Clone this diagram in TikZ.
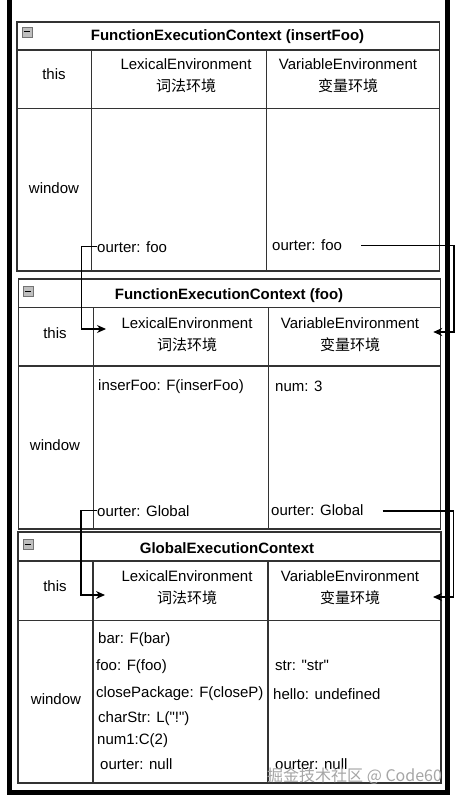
\documentclass[tikz,border=0pt]{standalone}
\usepackage{fontspec}
\setmainfont{Liberation Sans}[Ligatures=TeXOff]
\newfontfamily\cjk{Noto Sans CJK SC}
\usetikzlibrary{arrows.meta}
\begin{document}
\begin{tikzpicture}[x=1pt,y=-1pt,
  grid/.style={draw=black!80, line width=1.2pt},
  txt/.style={inner sep=0pt, anchor=base west, font=\fontsize{15}{18}\selectfont},
  ctr/.style={inner sep=0pt, anchor=base, font=\fontsize{15}{18}\selectfont},
  ttl/.style={inner sep=0pt, anchor=base, font=\fontsize{15}{18}\selectfont\bfseries},
  zh/.style={inner sep=0pt, anchor=base, font=\fontsize{15}{18}\selectfont\cjk},
  frame/.style={line width=5pt, draw=black},
  link/.style={draw=black, line width=1.2pt, -{Stealth[length=9pt,width=8pt]}},
  icon/.style={draw=black!55, fill=black!25, line width=0.8pt, minimum size=10pt, inner sep=0pt},
  minus/.style={draw=black, line width=1pt},
]
\useasboundingbox (0,0) rectangle (459,800);
\fill[white] (0,0) rectangle (459,800);
\draw[frame] (9.5,0) -- (9.5,792.5) -- (447.5,792.5) -- (447.5,0);

% ---------- table 1 ----------
\draw[grid] (17,22) rectangle (439.5,271);
\draw[grid] (17,50) -- (439.5,50);
\draw[grid] (17,108.3) -- (439.5,108.3);
\draw[grid] (91.7,50) -- (91.7,271);
\draw[grid] (266.7,50) -- (266.7,271);
\node[icon] (i1) at (27,32) {};
\draw[minus] ([xshift=2pt]i1.west) -- ([xshift=-2pt]i1.east);
\node[ttl] (t1h) at (227.5,41) {FunctionExecutionContext (insertFoo)};
\node[ctr] (t1this) at (54,80) {this};
\node[ctr] (t1le) at (186,70) {LexicalEnvironment};
\node[zh] (t1lez) at (186,92) {词法环境};
\node[ctr] (t1ve) at (348,70) {VariableEnvironment};
\node[zh] (t1vez) at (348,92) {变量环境};
\node[ctr] (t1win) at (54,193) {window};
\node[txt] (t1lo) at (97,252) {ourter: foo};
\node[txt] (t1vo) at (272,250) {ourter: foo};

% ---------- table 2 ----------
\draw[grid] (18.3,279) rectangle (440.7,529);
\draw[grid] (18.3,307.7) -- (440.7,307.7);
\draw[grid] (18.3,366) -- (440.7,366);
\draw[grid] (93.3,307.7) -- (93.3,529);
\draw[grid] (268.3,307.7) -- (268.3,529);
\node[icon] (i2) at (28,291) {};
\draw[minus] ([xshift=2pt]i2.west) -- ([xshift=-2pt]i2.east);
\node[ttl] (t2h) at (229,299) {FunctionExecutionContext (foo)};
\node[ctr] (t2this) at (55,338) {this};
\node[ctr] (t2le) at (187,328) {LexicalEnvironment};
\node[zh] (t2lez) at (187,350) {词法环境};
\node[ctr] (t2ve) at (350,328) {VariableEnvironment};
\node[zh] (t2vez) at (350,350) {变量环境};
\node[ctr] (t2win) at (55,450) {window};
\node[txt] (t2ins) at (98,390) {inserFoo: F(inserFoo)};
\node[txt] (t2num) at (275,391) {num: 3};
\node[txt] (t2lo) at (97,516) {ourter: Global};
\node[txt] (t2vo) at (271,515) {ourter: Global};

% ---------- table 3 ----------
\draw[grid] (18,532) rectangle (441,783);
\draw[grid] (18,561) -- (441,561);
\draw[grid] (18,620.5) -- (441,620.5);
\draw[grid] (93,561) -- (93,783);
\draw[grid] (268,561) -- (268,783);
\node[icon] (i3) at (28,544) {};
\draw[minus] ([xshift=2pt]i3.west) -- ([xshift=-2pt]i3.east);
\node[ttl] (t3h) at (227,553) {GlobalExecutionContext};
\node[ctr] (t3this) at (55,591) {this};
\node[ctr] (t3le) at (187,581) {LexicalEnvironment};
\node[zh] (t3lez) at (187,603) {词法环境};
\node[ctr] (t3ve) at (350,581) {VariableEnvironment};
\node[zh] (t3vez) at (350,603) {变量环境};
\node[ctr] (t3win) at (56,704) {window};
\node[txt] (t3bar) at (98,643) {bar: F(bar)};
\node[txt] (t3foo) at (96,670) {foo: F(foo)};
\node[txt] (t3cp) at (96,697) {closePackage: F(closeP)};
\node[txt] (t3cs) at (98,722) {charStr: L("!")};
\node[txt] (t3n1) at (97,744) {num1:C(2)};
\node[txt] (t3lo) at (100,769) {ourter: null};
\node[txt] (t3str) at (275,670) {str: "str"};
\node[txt] (t3hel) at (273,699) {hello: undefined};
\node[txt] (t3vo) at (275,769) {ourter: null};

% ---------- connectors ----------
\coordinate (a1c) at (81.7,329);
\coordinate (a1t) at (106,329);
\draw[link] (t1lo.west) -| (a1c) -- (a1t);
\coordinate (a2s) at (361,245.7);
\coordinate (a2c) at (454,332);
\coordinate (a2t) at (433.3,332);
\draw[link] (a2s) -| (a2c) -- (a2t);
\coordinate (a3c) at (81,595);
\coordinate (a3t) at (105,595);
\draw[link] (t2lo.west) -| (a3c) -- (a3t);
\coordinate (a4s) at (382.7,511);
\coordinate (a4c) at (453.3,597);
\coordinate (a4t) at (433,597);
\draw[link] (a4s) -| (a4c) -- (a4t);

% watermark
\node[anchor=base west, inner sep=0pt, text=black!35, font=\fontsize{16}{18}\selectfont\cjk] (wm) at (267,781) {掘金技术社区 @ Code60};
\end{tikzpicture}
\end{document}
